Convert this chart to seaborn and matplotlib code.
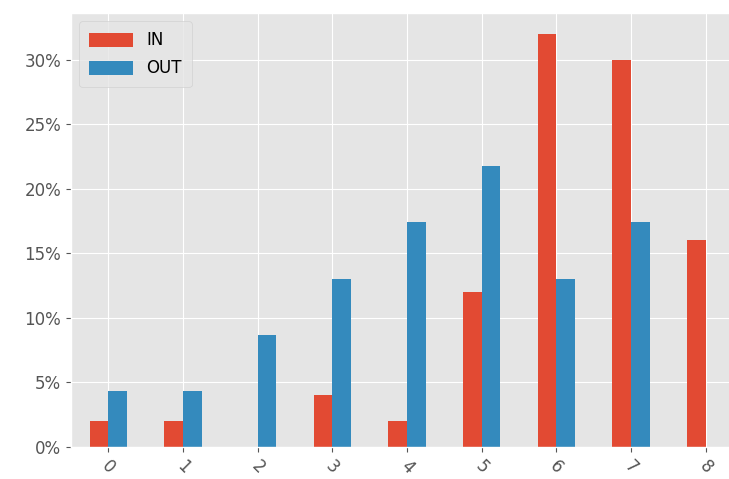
import matplotlib
matplotlib.use("Agg")
import matplotlib.pyplot as plt
from matplotlib.ticker import PercentFormatter
import pandas as pd
import seaborn as sns

categories = [0, 1, 2, 3, 4, 5, 6, 7, 8]
in_pct = [2, 2, 0, 4, 2, 12, 32, 30, 16]
out_pct = [4.35, 4.35, 8.70, 13.04, 17.39, 21.74, 13.04, 17.39, 0]

df = pd.DataFrame({
    "bin": categories * 2,
    "pct": in_pct + out_pct,
    "group": ["IN"] * len(categories) + ["OUT"] * len(categories),
})

plt.style.use("ggplot")
plt.rcParams["font.size"] = 12

fig = plt.figure(figsize=(7.29, 4.79), dpi=100)
ax = fig.add_axes([0.0974, 0.0668, 0.922, 0.906])

sns.barplot(data=df, x="bin", y="pct", hue="group", width=0.5,
            palette=["#E24A33", "#348ABD"], saturation=1, linewidth=0, ax=ax)

ax.set_xlim(-0.5, 8.5)
ax.set_ylim(0, 33.6)
ax.yaxis.set_major_formatter(PercentFormatter(decimals=0))
ax.grid(True, axis="both", color="white")
ax.set_axisbelow(True)
ax.set_xlabel("")
ax.set_ylabel("")
plt.setp(ax.get_xticklabels(), rotation=-45)
ax.tick_params(labelsize=12)

handles, labels = ax.get_legend_handles_labels()
ax.legend(handles, labels, loc="upper left", fontsize=12, borderpad=0.6,
          handlelength=2.6, handleheight=0.9, labelspacing=0.6)

fig.savefig("out.png", dpi=100)
